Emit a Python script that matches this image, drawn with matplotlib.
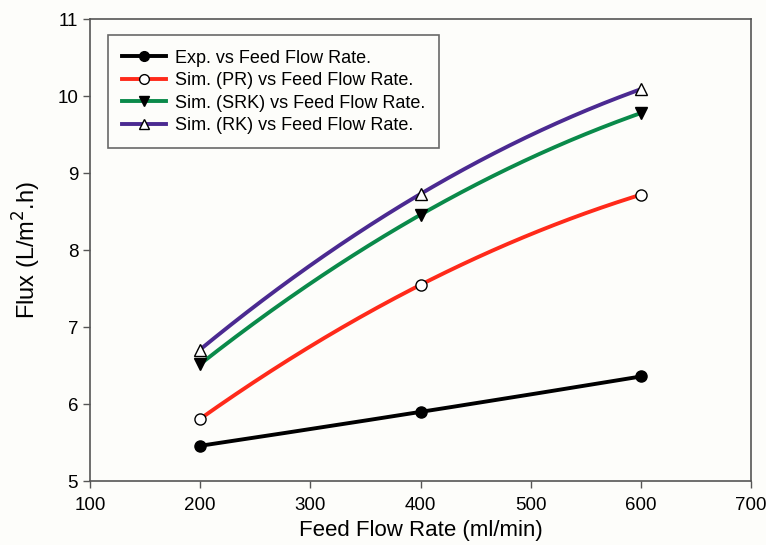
import numpy as np
import matplotlib.pyplot as plt

plt.rcParams['font.family'] = ['Liberation Sans', 'DejaVu Sans']

flow = [200, 400, 600]
exp_flux = [5.46, 5.90, 6.36]
pr_flux = [5.81, 7.55, 8.72]
srk_flux = [6.52, 8.46, 9.78]
rk_flux = [6.71, 8.73, 10.09]

series = [
    ('Exp. vs Feed Flow Rate.', exp_flux, 'black', 'o', 'black'),
    ('Sim. (PR) vs Feed Flow Rate.', pr_flux, '#ff2a1a', 'o', 'white'),
    ('Sim. (SRK) vs Feed Flow Rate.', srk_flux, '#0a8a4a', 'v', 'black'),
    ('Sim. (RK) vs Feed Flow Rate.', rk_flux, '#4b2a91', '^', 'white'),
]

fig = plt.figure(figsize=(7.66, 5.45), dpi=100, facecolor='#fdfdfa')
ax = fig.add_axes([0.1175, 0.117, 0.863, 0.848])
ax.set_facecolor('#fdfdfa')

xs = np.linspace(flow[0], flow[-1], 200)
for label, ys, color, marker, mfc in series:
    # smooth curve through the three points, like the original spline
    coef = np.polyfit(flow, ys, 2)
    ax.plot(xs, np.polyval(coef, xs), color=color, lw=2.8, zorder=2)
    ax.plot(flow, ys, linestyle='none', marker=marker, markersize=8,
            markerfacecolor=mfc, markeredgecolor='black', markeredgewidth=1, zorder=3)
    ax.plot([], [], color=color, lw=2.8, marker=marker, markersize=7,
            markerfacecolor=mfc, markeredgecolor='black', label=label)

ax.set_xlim(100, 700)
ax.set_ylim(5, 11)
ax.set_xticks(range(100, 701, 100))
ax.set_yticks(range(5, 12))
ax.tick_params(direction='out', length=5, labelsize=13.5, width=1, color='#555555')
ax.tick_params(axis='x', pad=6)
for s in ax.spines.values():
    s.set_color('#555555')
    s.set_linewidth(1.2)

ax.set_xlabel('Feed Flow Rate (ml/min)', fontsize=16, labelpad=5)
ax.set_ylabel('Flux (L/m$^2$.h)', fontsize=17, labelpad=10)

leg = ax.legend(loc='upper left', bbox_to_anchor=(0.027, 0.965), borderaxespad=0,
                fontsize=13, frameon=True, fancybox=False, handlelength=2.4,
                numpoints=1, borderpad=0.8, labelspacing=0.3, handletextpad=0.5)
leg.get_frame().set_edgecolor('#444444')
leg.get_frame().set_linewidth(1.2)
leg.get_frame().set_facecolor('#fdfdfa')

fig.savefig('out.png', dpi=100, facecolor=fig.get_facecolor())
